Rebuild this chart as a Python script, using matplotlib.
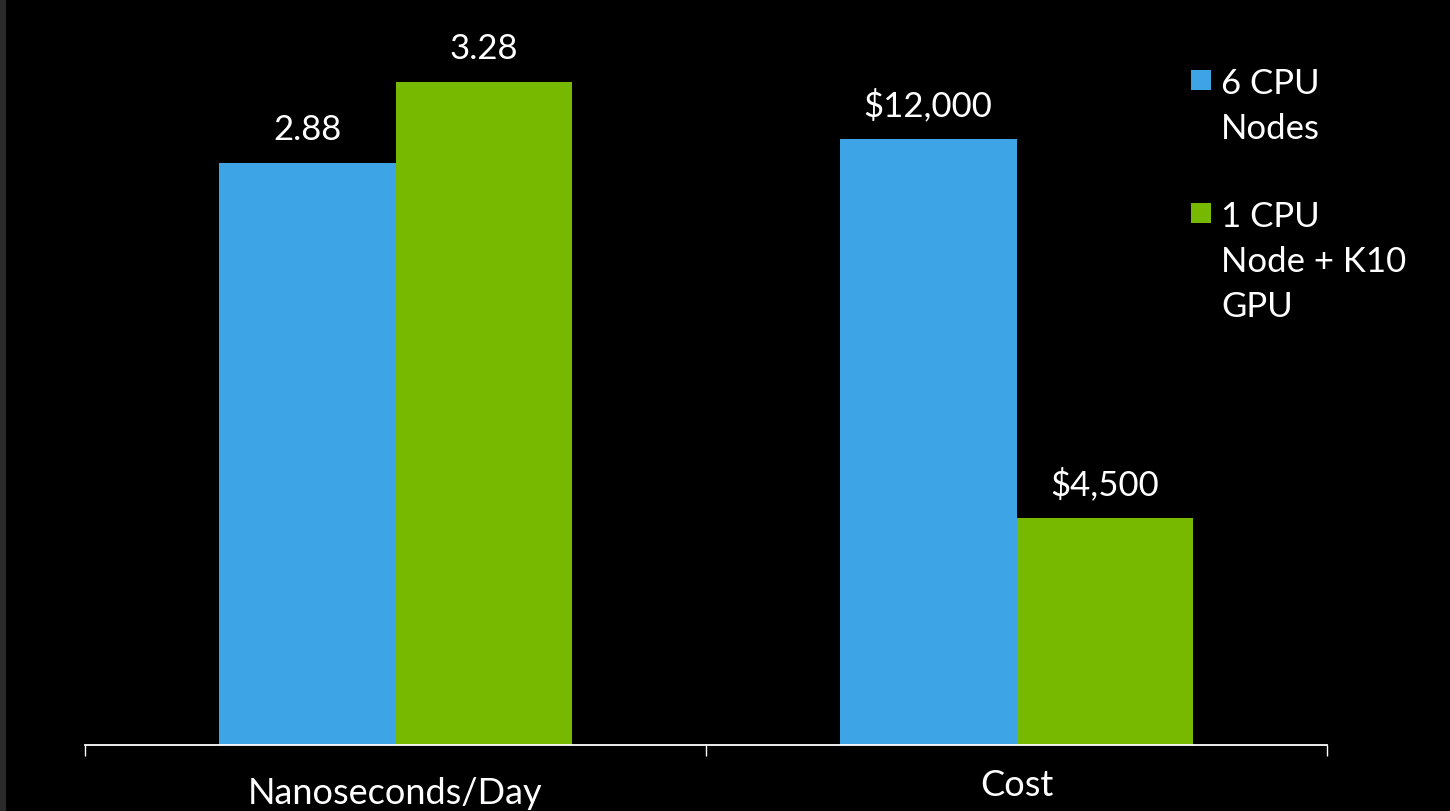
import matplotlib
matplotlib.use("Agg")
import matplotlib.pyplot as plt
from matplotlib.patches import Rectangle

# data
categories = ["Nanoseconds/Day", "Cost"]
series_names = ["6 CPU\nNodes", "1 CPU\nNode + K10\nGPU"]
ns_per_day = [2.88, 3.28]          # 6 CPU nodes, 1 CPU node + K10
cost = [12000, 4500]               # dollars
cost_unit = 4000.0                 # cost drawn in units of $4,000 so both groups share the axis
colors = ["#3da5e6", "#76b900"]

plt.rcParams['font.family'] = ['Lato', 'DejaVu Sans']

fig = plt.figure(figsize=(14.5, 8.11), dpi=100, facecolor="black")
# thin grey strip on the left edge of the slide
fig.patches.append(Rectangle((0, 0), 6 / 1450, 1, transform=fig.transFigure,
                             facecolor="#2a2a2a", edgecolor="none"))

ax = fig.add_axes([85 / 1450, 66 / 811, 1242 / 1450, 745 / 811])
ax.set_facecolor("black")

w = 0.285
heights = [[ns_per_day[0], cost[0] / cost_unit], [ns_per_day[1], cost[1] / cost_unit]]
labels = [[f"{ns_per_day[0]:.2f}", f"${cost[0]:,}"], [f"{ns_per_day[1]:.2f}", f"${cost[1]:,}"]]
for s in range(2):
    xs = [i + (s - 0.5) * w for i in range(len(categories))]
    bars = ax.bar(xs, heights[s], width=w, color=colors[s], linewidth=0)
    for b, lab in zip(bars, labels[s]):
        ax.annotate(lab, (b.get_x() + b.get_width() / 2, b.get_height()),
                    xytext=(0, 12), textcoords="offset points",
                    ha="center", va="bottom", color="white", fontsize=25)

ax.set_xlim(-0.5, 1.5)
ax.set_ylim(0, 3.686)
for sp in ["left", "right", "top"]:
    ax.spines[sp].set_visible(False)
ax.spines["bottom"].set_color("white")
ax.spines["bottom"].set_linewidth(1.3)
ax.set_yticks([])
ax.set_xticks([-0.5, 0.5, 1.5])
ax.set_xticklabels([])
ax.tick_params(axis="x", colors="white", length=8, width=1.0, direction="out")

# category labels under the axis
for i, (c, dy) in enumerate(zip(categories, [-23, -17])):
    ax.annotate(c, (i, 0), xytext=(0, dy), textcoords="offset points",
                ha="center", va="top", color="white", fontsize=26,
                annotation_clip=False)

# legend drawn on the slide, squares aligned with the first text line
legend_tops = [70, 203]
for s in range(2):
    y0 = legend_tops[s]
    fig.patches.append(Rectangle((1191 / 1450, 1 - (y0 + 20) / 811), 20 / 1450, 20 / 811,
                                 transform=fig.transFigure, facecolor=colors[s],
                                 edgecolor="none"))
    fig.text(1221 / 1450, 1 - (y0 - 2) / 811, series_names[s], color="white",
             fontsize=25, ha="left", va="top", linespacing=1.5)

fig.savefig("out.png", dpi=100, facecolor="black")
